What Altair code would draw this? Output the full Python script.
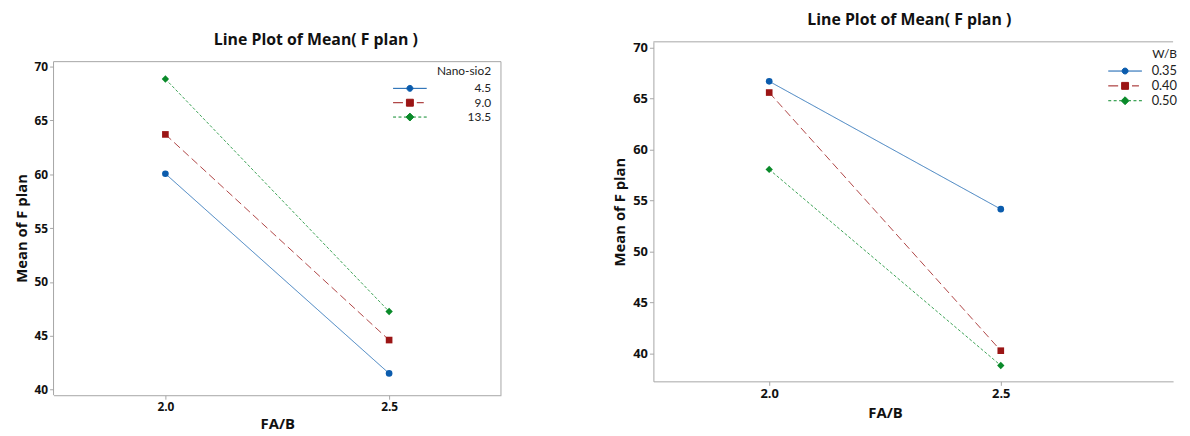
import altair as alt
import pandas as pd

# ---------------- data ----------------
fab = [2.0, 2.5]

left_groups = ["4.5", "9.0", "13.5"]
left_means = {
    "4.5": [60.05, 41.5],
    "9.0": [63.7, 44.6],
    "13.5": [68.85, 47.25],
}

right_groups = ["0.35", "0.40", "0.50"]
right_means = {
    "0.35": [66.7, 54.15],
    "0.40": [65.6, 40.25],
    "0.50": [58.05, 38.8],
}

colors = ["#0b5cad", "#9b1515", "#0a8a2a"]
dashes = [[1, 0], [8, 4], [3, 2]]
shapes = ["circle", "square", "diamond"]

# legend symbols: line segment + marker (unit = sqrt(symbolSize)/2 px)
legend_paths = [
    "M-3.4,0L3.4,0M0.6,0A0.6,0.6,0,1,1,-0.6,0A0.6,0.6,0,1,1,0.6,0Z",
    "M-3.4,0L-1.4,0M1.4,0L2.8,0M-0.7,-0.7L0.7,-0.7L0.7,0.7L-0.7,0.7Z",
    "M-3.4,0L-2.8,0M-2.3,0L-1.7,0M-1.2,0L-0.8,0M0.8,0L1.2,0M1.7,0L2.3,0M2.8,0L3.4,0"
    "M0,-0.8L0.8,0L0,0.8L-0.8,0Z",
]

TFONT = "Open Sans"
LFONT = "Lato"


def make_df(groups, means, key):
    rows = []
    for g in groups:
        for x, v in zip(fab, means[g]):
            rows.append({key: g, "fab": x, "mean": v})
    return pd.DataFrame(rows)


def panel(groups, means, key, legend_title, xdom, ydom, w, h, frame, legend_xy,
          label_offset, title_dx, title_dy, xtitle_pad, tick_fs, ytitle_y, xtitle_x,
          leg_fs, row_pad):
    df = make_df(groups, means, key)
    base = alt.Chart(df)
    xs = alt.Scale(domain=xdom, nice=False, zero=False)
    ys = alt.Scale(domain=ydom, nice=False, zero=False)
    cscale = alt.Scale(domain=groups, range=colors)
    f = f"{key}:N"

    xaxis_kw = dict(values=fab, format=".1f", grid=False,
                    domainColor="#a6a6a6", tickColor="#a6a6a6",
                    tickSize=4, labelFontSize=tick_fs, labelFontWeight="bold",
                    labelColor="#111", labelFont=TFONT, labelPadding=2,
                    titleFont=TFONT, titleFontSize=15, titleFontWeight="bold",
                    titleColor="#111", titlePadding=xtitle_pad)
    if xtitle_x is not None:
        xaxis_kw["titleX"] = xtitle_x
    yaxis_kw = dict(values=[40, 45, 50, 55, 60, 65, 70], grid=False,
                    domain=frame is None, domainColor="#a6a6a6",
                    tickColor="#a6a6a6", tickSize=4, labelFontSize=tick_fs,
                    labelFontWeight="bold", labelColor="#111",
                    labelFont=TFONT, labelPadding=2, titleFont=TFONT,
                    titleFontSize=15, titleFontWeight="bold",
                    titleColor="#111", titlePadding=5)
    if ytitle_y is not None:
        yaxis_kw["titleY"] = ytitle_y
    xenc = alt.X("fab:Q", scale=xs, title="FA/B", axis=alt.Axis(**xaxis_kw))
    yenc = alt.Y("mean:Q", scale=ys, title="Mean of F plan", axis=alt.Axis(**yaxis_kw))

    layers = []
    first = True
    for g, col, dash in zip(groups, colors, dashes):
        sub = base.transform_filter(alt.datum[key] == g)
        mk = sub.mark_line(strokeWidth=1, opacity=0.8, color=col, strokeDash=dash)
        if first:
            layers.append(mk.encode(x=xenc, y=yenc))
            first = False
        else:
            layers.append(mk.encode(x="fab:Q", y="mean:Q"))
    for g, shp, col, sz in zip(groups, shapes, colors, [45, 45, 55]):
        layers.append(
            base.transform_filter(alt.datum[key] == g)
            .mark_point(shape=shp, filled=True, opacity=1, size=sz, color=col)
            .encode(x="fab:Q", y="mean:Q")
        )
    legend = alt.Legend(
        title=legend_title, orient="none", legendX=legend_xy[0], legendY=legend_xy[1],
        titleFont=LFONT, titleFontSize=12, titleFontWeight="normal", titleColor="#222",
        titleAnchor="end", titleAlign="right", titlePadding=4,
        labelFont=LFONT, labelFontSize=leg_fs, labelColor="#222", labelOffset=label_offset,
        labelAlign="right",
        symbolSize=100, symbolStrokeWidth=1, rowPadding=row_pad, padding=0,
    )
    leg_layer = base.mark_point(filled=True, opacity=1, strokeWidth=1, clip=True).encode(
        x=alt.value(-200), y=alt.value(-200),
        color=alt.Color(f, scale=cscale, legend=legend),
        stroke=alt.Stroke(f, scale=alt.Scale(domain=groups, range=colors), legend=legend),
        shape=alt.Shape(f, scale=alt.Scale(domain=groups, range=legend_paths), legend=legend),
    )
    layers.append(leg_layer)

    fr = pd.DataFrame({"k": [0]})
    if frame is None:
        top = alt.Chart(fr).mark_rule(color="#a6a6a6", strokeWidth=1).encode(y=alt.value(0))
        layers.append(top)
    else:
        x0, x1, y0, y1 = frame
        layers.append(alt.Chart(fr).mark_rule(color="#a6a6a6", strokeWidth=1).encode(
            x=alt.datum(x0), x2=alt.datum(x1), y=alt.datum(y1)))
        layers.append(alt.Chart(fr).mark_rule(color="#a6a6a6", strokeWidth=1).encode(
            x=alt.datum(x0), y=alt.datum(y0), y2=alt.datum(y1)))
        layers.append(alt.Chart(fr).mark_rule(color="#a6a6a6", strokeWidth=1).encode(
            x=alt.datum(x1), y=alt.datum(y0), y2=alt.datum(y1)))

    return alt.layer(*layers).properties(
        width=w, height=h,
        title=alt.TitleParams("Line Plot of Mean( F plan )", font=TFONT, fontSize=16,
                              fontWeight="bold", color="#111", offset=14,
                              dx=title_dx, dy=title_dy),
    )


left = panel(left_groups, left_means, "nano", "Nano-sio2",
             [1.75, 2.75], [39.476, 72.30], 452, 357,
             (1.75, 2.75, 39.476, 70.46), (354, 25), 76, 39, 20, 5, 12, 188, None, 12, 2.5)
right = panel(right_groups, right_means, "wb", "W/B",
              [1.75, 2.872], [37.24, 70.58], 525, 343,
              None, (470, 7), 46, -4, 0, 6, 13, None, 234, 13, 1)

chart = (
    alt.hconcat(left, right, spacing=112)
    .resolve_scale(color="independent", stroke="independent", shape="independent")
    .resolve_legend(color="independent", stroke="independent", shape="independent")
    .properties(padding={"left": 6, "top": 1, "right": 5, "bottom": 0})
    .configure_view(strokeOpacity=0, strokeWidth=0)
)

chart.save("out.html", embed_options={"renderer": "svg", "actions": False})
